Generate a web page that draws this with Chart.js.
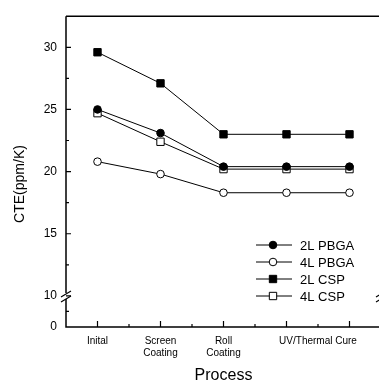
<!DOCTYPE html>
<html>
<head>
<meta charset="utf-8">
<script src="https://cdn.jsdelivr.net/npm/chart.js@4.4.0/dist/chart.umd.min.js"></script>
<style>
  html, body { margin: 0; padding: 0; background: #fff; overflow: hidden; }
  #wrap { width: 390px; height: 385px; position: relative; }
</style>
</head>
<body>
<div id="wrap"><canvas id="cteChart"></canvas></div>
<script>
// process stages (x index) and CTE values
const stageIndex = [0, 1, 2, 3, 4];
const seriesLabels = ['2L PBGA', '4L PBGA', '2L CSP', '4L CSP'];
const cte2LPBGA = [25.0, 23.1, 20.4, 20.4, 20.4];
const cte4LPBGA = [20.8, 19.8, 18.3, 18.3, 18.3];
const cte2LCSP = [29.6, 27.1, 23.0, 23.0, 23.0];
const cte4LCSP = [24.7, 22.4, 20.2, 20.2, 20.2];

// axis ticks (y axis is broken: the bottom tick stands for 0)
const xTickValues = [0, 1, 2, 3.5];
const xTickLabels = [['Inital'], ['Screen', 'Coating'], ['Roll', 'Coating'], ['UV/Thermal Cure']];
const xMajorTicks = [0, 1, 2, 3, 4];
const xMinorTicks = [0.5, 1.5, 2.5, 3.5];
const yTickValues = [7.5, 10, 15, 20, 25, 30];
const yTickLabels = ['0', '10', '15', '20', '25', '30'];
const yMajorTicks = [10, 15, 20, 25, 30];
const yMinorTicks = [8.75, 12.5, 17.5, 22.5, 27.5];
const yBreakValue = 10;

const FONT = "'Liberation Sans', Arial, sans-serif";

function toPoints(values) {
    return stageIndex.map((x, i) => ({ x: x, y: values[i] }));
}

const styles = [
    { pointStyle: 'circle', radius: 3.8, fill: '#000' },
    { pointStyle: 'circle', radius: 3.8, fill: '#fff' },
    { pointStyle: 'rect', radius: 5.2, fill: '#000' },
    { pointStyle: 'rect', radius: 5.2, fill: '#fff' }
];

const datasets = [cte2LPBGA, cte4LPBGA, cte2LCSP, cte4LCSP].map((vals, i) => ({
    label: seriesLabels[i],
    data: toPoints(vals),
    borderColor: '#000',
    borderWidth: 1,
    pointStyle: styles[i].pointStyle,
    pointRadius: styles[i].radius,
    pointBackgroundColor: styles[i].fill,
    pointBorderColor: '#000',
    pointBorderWidth: 1,
    tension: 0
}));

// axes frame, inward ticks, break marks and legend
const framePlugin = {
    id: 'frame',
    afterDraw(chart) {
        const ctx = chart.ctx;
        const a = chart.chartArea;
        const xs = chart.scales.x;
        const ys = chart.scales.y;
        const yb = ys.getPixelForValue(yBreakValue);

        ctx.save();
        ctx.strokeStyle = '#000';
        ctx.lineWidth = 1.5;
        ctx.beginPath();
        // left axis with gap at break
        ctx.moveTo(a.left, a.top);
        ctx.lineTo(a.left, yb - 3);
        ctx.moveTo(a.left, yb + 3);
        ctx.lineTo(a.left, a.bottom);
        ctx.lineTo(a.right, a.bottom);
        // right axis with gap
        ctx.lineTo(a.right, yb + 3);
        ctx.moveTo(a.right, yb - 3);
        ctx.lineTo(a.right, a.top);
        ctx.lineTo(a.left, a.top);
        ctx.stroke();

        // break marks
        ctx.lineWidth = 1.2;
        [a.left, a.right].forEach(x0 => {
            ctx.beginPath();
            ctx.moveTo(x0 - 5, yb + 1);
            ctx.lineTo(x0 + 5, yb - 5);
            ctx.moveTo(x0 - 5, yb + 6);
            ctx.lineTo(x0 + 5, yb);
            ctx.stroke();
        });

        // inward tick marks
        ctx.lineWidth = 1.2;
        ctx.beginPath();
        yMajorTicks.forEach(v => {
            const y = ys.getPixelForValue(v);
            ctx.moveTo(a.left, y); ctx.lineTo(a.left + 5, y);
        });
        yMinorTicks.forEach(v => {
            const y = ys.getPixelForValue(v);
            ctx.moveTo(a.left, y); ctx.lineTo(a.left + 3, y);
        });
        xMajorTicks.forEach(v => {
            const x = xs.getPixelForValue(v);
            ctx.moveTo(x, a.bottom); ctx.lineTo(x, a.bottom - 6);
        });
        xMinorTicks.forEach(v => {
            const x = xs.getPixelForValue(v);
            ctx.moveTo(x, a.bottom); ctx.lineTo(x, a.bottom - 3);
        });
        ctx.stroke();

        // y axis title
        ctx.fillStyle = '#000';
        ctx.font = '14px ' + FONT;
        ctx.translate(20, 184);
        ctx.rotate(-Math.PI / 2);
        ctx.textAlign = 'center';
        ctx.textBaseline = 'middle';
        ctx.fillText('CTE(ppm/K)', 0, 0);
        ctx.restore();

        // legend: line segment with the series marker in the middle
        ctx.save();
        ctx.font = '13px ' + FONT;
        ctx.textBaseline = 'middle';
        chart.data.datasets.forEach((ds, i) => {
            const y = 245 + i * 17;
            ctx.strokeStyle = '#000';
            ctx.lineWidth = 1;
            ctx.beginPath();
            ctx.moveTo(256, y);
            ctx.lineTo(292, y);
            ctx.stroke();
            ctx.fillStyle = ds.pointBackgroundColor;
            ctx.beginPath();
            if (ds.pointStyle === 'circle') {
                ctx.arc(273, y, ds.pointRadius, 0, Math.PI * 2);
            } else {
                const s = ds.pointRadius * Math.SQRT1_2;
                ctx.rect(273 - s, y - s, 2 * s, 2 * s);
            }
            ctx.fill();
            ctx.stroke();
            ctx.fillStyle = '#000';
            ctx.fillText(ds.label, 300, y + 1);
        });
        ctx.restore();
    }
};

new Chart(document.getElementById('cteChart'), {
    type: 'line',
    data: { datasets: datasets },
    options: {
        responsive: true,
        maintainAspectRatio: false,
        animation: false,
        layout: { padding: { top: 10, right: 9, left: 0, bottom: 0 } },
        plugins: {
            legend: { display: false },
            tooltip: { enabled: false }
        },
        scales: {
            x: {
                type: 'linear',
                min: -0.5,
                max: 4.5,
                grid: { display: false, drawTicks: false },
                border: { display: false },
                afterBuildTicks: axis => {
                    axis.ticks = xTickValues.map(v => ({ value: v }));
                },
                afterFit: axis => { axis.height = 58; },
                ticks: {
                    autoSkip: false,
                    maxRotation: 0,
                    padding: 8,
                    color: '#000',
                    font: { family: FONT, size: 10 },
                    callback: (value, index) => xTickLabels[index]
                },
                title: {
                    display: true,
                    text: 'Process',
                    color: '#000',
                    font: { family: FONT, size: 16 },
                    padding: { top: 0, bottom: 0 }
                }
            },
            y: {
                type: 'linear',
                min: 7.5,
                max: 32.5,
                grid: { display: false, drawTicks: false },
                border: { display: false },
                afterBuildTicks: axis => {
                    axis.ticks = yTickValues.map(v => ({ value: v }));
                },
                afterFit: axis => { axis.width = 66; },
                ticks: {
                    padding: 9,
                    color: '#000',
                    font: { family: FONT, size: 12 },
                    callback: (value, index) => yTickLabels[index]
                }
            }
        }
    },
    plugins: [framePlugin]
});
</script>
</body>
</html>
